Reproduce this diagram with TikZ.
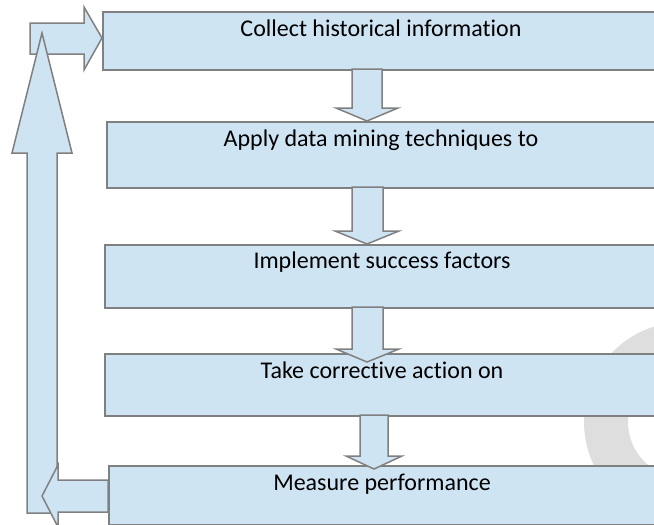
\documentclass[tikz,border=0pt]{standalone}
\usepackage{fontspec}
\setmainfont{Carlito}[Ligatures={NoCommon}]
\usetikzlibrary{positioning,calc}
\definecolor{ink}{HTML}{000000}
\definecolor{edge}{HTML}{808080}
\definecolor{boxfill}{HTML}{CFE4F3}
\definecolor{mark}{HTML}{DEDEDE}
\tikzset{
  figbase/.style={
    x=1pt, y=-1pt,
    font=\fontsize{24}{28}\selectfont,
    line join=miter,
  },
  stepbox/.style={
    draw=edge, line width=1.5pt,
    fill=boxfill,
    anchor=north west,
    minimum width=560pt,
    inner sep=0pt,
  },
  steptext/.style={anchor=base, text=ink, inner sep=0pt},
  blockarr/.style={draw=edge, line width=1.5pt, fill=boxfill},
  watermark/.style={fill=mark, even odd rule},
}

\begin{document}
\begin{tikzpicture}[figbase]
  \useasboundingbox (0,0) rectangle (654,525);
  \clip (0,0) rectangle (654,525);

  % faint ring behind the steps
  \path[watermark] (684,422) circle[radius=100pt] (684,422) circle[radius=56pt];

  % the five steps
  \node[stepbox, minimum height=58pt] (collect) at (102,11) {};
  \node[stepbox, minimum height=66pt] (apply) at (106,121) {};
  \node[stepbox, minimum height=63pt] (implement) at (104,244) {};
  \node[stepbox, minimum height=62pt] (action) at (104,353) {};
  \node[stepbox, minimum height=59pt] (measure) at (108,465) {};

  \node[steptext] (collect-t) at (381,36) {Collect historical information};
  \node[steptext] (apply-t) at (381,146) {Apply data mining techniques to};
  \node[steptext] (implement-t) at (382,268) {Implement success factors};
  \node[steptext] (action-t) at (382,378) {Take corrective action on};
  \node[steptext] (measure-t) at (382,490) {Measure performance};

  % block arrows down the chain
  \draw[blockarr] (352,69) -- (382,69) -- (382,108) -- (398,108) -- (367,121)
    -- (336,108) -- (352,108) -- cycle;
  \draw[blockarr] (352,187) -- (383,187) -- (383,231) -- (399,231) -- (367,244)
    -- (335,231) -- (352,231) -- cycle;
  \draw[blockarr] (352,307) -- (383,307) -- (383,349) -- (399,349) -- (367,362)
    -- (336,349) -- (352,349) -- cycle;
  \draw[blockarr] (360,415) -- (388,415) -- (388,456) -- (402,456) -- (374,469)
    -- (346,456) -- (360,456) -- cycle;

  % feedback loop on the left
  \draw[blockarr] (30,23) -- (84,23) -- (84,7) -- (102,38) -- (84,70)
    -- (84,54) -- (30,54) -- cycle;
  \draw[blockarr] (27,513) -- (27,153) -- (12,153) -- (42,33) -- (72,153)
    -- (57,153) -- (57,513) -- cycle;
  \draw[blockarr] (108,480) -- (58,480) -- (58,465) -- (42,496) -- (58,527)
    -- (58,512) -- (108,512) -- cycle;
\end{tikzpicture}
\end{document}
